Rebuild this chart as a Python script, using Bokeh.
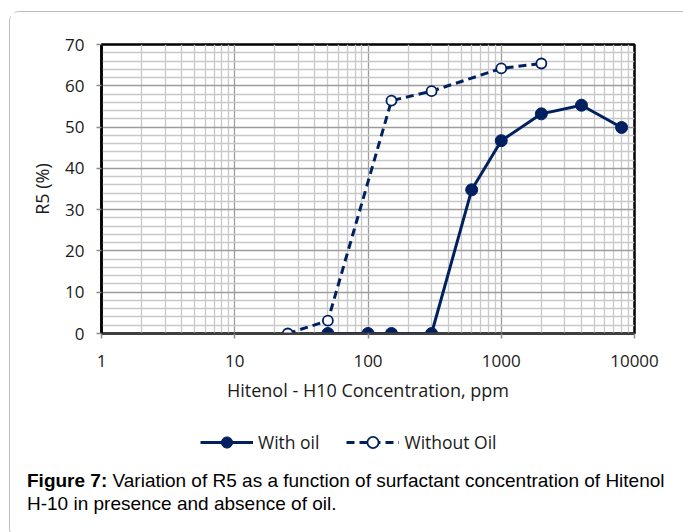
from bokeh.plotting import figure
from bokeh.layouts import column
from bokeh.models import FixedTicker, NumeralTickFormatter, Legend, LegendItem, Range1d, Div
from bokeh.embed import file_html
from bokeh.resources import INLINE

# ---- data ----
conc_with_oil = [50, 100, 150, 300, 600, 1000, 2000, 4000, 8000]
r5_with_oil = [0, 0, 0, 0, 34.8, 46.7, 53.2, 55.3, 49.9]
conc_without_oil = [25, 50, 150, 300, 1000, 2000]
r5_without_oil = [0, 3.1, 56.4, 58.7, 64.2, 65.4]
x_ticks = [1, 10, 100, 1000, 10000]
x_minor = [m * d for d in [1, 10, 100, 1000] for m in range(2, 10)]
y_ticks = [0, 10, 20, 30, 40, 50, 60, 70]
y_minor = [v for v in range(0, 71, 2) if v % 10 != 0]
series_names = ["With oil", "Without Oil"]
x_title = "Hitenol - H10 Concentration, ppm"
y_title = "R5 (%)"
caption_bold = "Figure 7:"
caption_line1 = "Variation of R5 as a function of surfactant concentration of Hitenol"
caption_line2 = "H-10 in presence and absence of oil."

NAVY = "#002060"
FONT = "Open Sans"
TXT = "#1a1a1a"

W = 671
H1, HL, HC = 405, 50, 61
BL, BR = 91, 47

series_x = [conc_with_oil, conc_without_oil]
series_y = [r5_with_oil, r5_without_oil]

# ---------------- main chart ----------------
p = figure(width=W, height=H1, x_axis_type="log",
           x_range=Range1d(1, 10000), y_range=Range1d(0, 70),
           output_backend="svg", toolbar_location=None,
           min_border_left=BL, min_border_right=BR, min_border_top=32,
           min_border_bottom=H1 - 321)

p.outline_line_color = "black"
p.outline_line_width = 2.5
p.background_fill_color = "white"
p.border_fill_color = "white"

p.xaxis.ticker = FixedTicker(ticks=x_ticks, minor_ticks=x_minor)
p.yaxis.ticker = FixedTicker(ticks=y_ticks, minor_ticks=y_minor)
p.xaxis.formatter = NumeralTickFormatter(format="0")

for ax in (p.xaxis[0], p.yaxis[0]):
    ax.major_label_text_font = FONT
    ax.major_label_text_font_size = "17px"
    ax.major_label_text_color = TXT
    ax.axis_label_text_font = FONT
    ax.axis_label_text_font_size = "18px"
    ax.axis_label_text_font_style = "normal"
    ax.axis_label_text_color = TXT
    ax.major_tick_out = 5
    ax.major_tick_in = 0
    ax.minor_tick_out = 0
    ax.minor_tick_in = 0
    ax.major_tick_line_color = "#8c8c8c"
    ax.major_tick_line_width = 1.5

p.yaxis.axis_line_color = "black"
p.yaxis.axis_line_width = 2.5
p.xaxis.axis_line_color = "#404040"
p.xaxis.axis_line_width = 2

p.xaxis.axis_label = x_title
p.yaxis.axis_label = y_title
p.xaxis.major_label_standoff = 16
p.xaxis.axis_label_standoff = 8
p.yaxis.major_label_standoff = 12
p.yaxis.axis_label_standoff = 8

for g in (p.xgrid[0], p.ygrid[0]):
    g.grid_line_color = "#9c9c9c"
    g.grid_line_width = 1.3
    g.minor_grid_line_color = "#c8c8c8"
    g.minor_grid_line_width = 1.3

line_kw = [dict(line_color=NAVY, line_width=3),
           dict(line_color=NAVY, line_width=3, line_dash="8 5")]
mark_kw = [dict(size=12, marker="circle", fill_color=NAVY, line_color=NAVY),
           dict(size=10, marker="circle", fill_color="white", line_color=NAVY, line_width=1.8)]

for i in range(2):
    p.line(series_x[i], series_y[i], **line_kw[i])
    p.scatter(series_x[i], series_y[i], **mark_kw[i])

# ---------------- legend strip ----------------
# same series, drawn in a strip whose 0..1 ranges keep them out of view;
# only their legend swatches show
lf = figure(width=W, height=HL, x_range=Range1d(0, 1), y_range=Range1d(0, 1),
            output_backend="svg", toolbar_location=None,
            x_axis_location=None, y_axis_location=None,
            min_border_left=BL, min_border_right=BR, min_border_top=0, min_border_bottom=0)
lf.outline_line_color = None
lf.xgrid.visible = False
lf.ygrid.visible = False
lf.border_fill_color = "white"

items = []
for i, name in enumerate(series_names):
    lr = lf.line(series_x[i], series_y[i], **line_kw[i])
    sr = lf.scatter(series_x[i], series_y[i], **mark_kw[i])
    items.append(LegendItem(label=name, renderers=[lr, sr]))

legend = Legend(items=items, orientation="horizontal", location=(99, 11),
                padding=0, margin=0, spacing=27, label_standoff=5,
                glyph_width=53, glyph_height=28,
                border_line_color=None, background_fill_alpha=0,
                label_text_font=FONT, label_text_font_size="17.5px",
                label_text_color=TXT)
lf.add_layout(legend, "center")

# ---------------- caption ----------------
cap_html = (
    '<div style="position:relative; top:-3px; padding-left:12px; white-space:nowrap; '
    'font-family:\'Liberation Sans\', Arial, sans-serif; font-size:19px; '
    'line-height:23px; color:#000;">'
    f'<b>{caption_bold}</b> {caption_line1}<br>{caption_line2}</div>'
)
cap = Div(text=cap_html, width=W, height=HC)

layout = column(p, lf, cap, spacing=0)
layout.styles = {"margin-left": "9px", "margin-top": "11px",
                 "border": "1px solid #bdbdbd", "border-radius": "10px"}

open("out.html", "w").write(file_html(layout, INLINE))
